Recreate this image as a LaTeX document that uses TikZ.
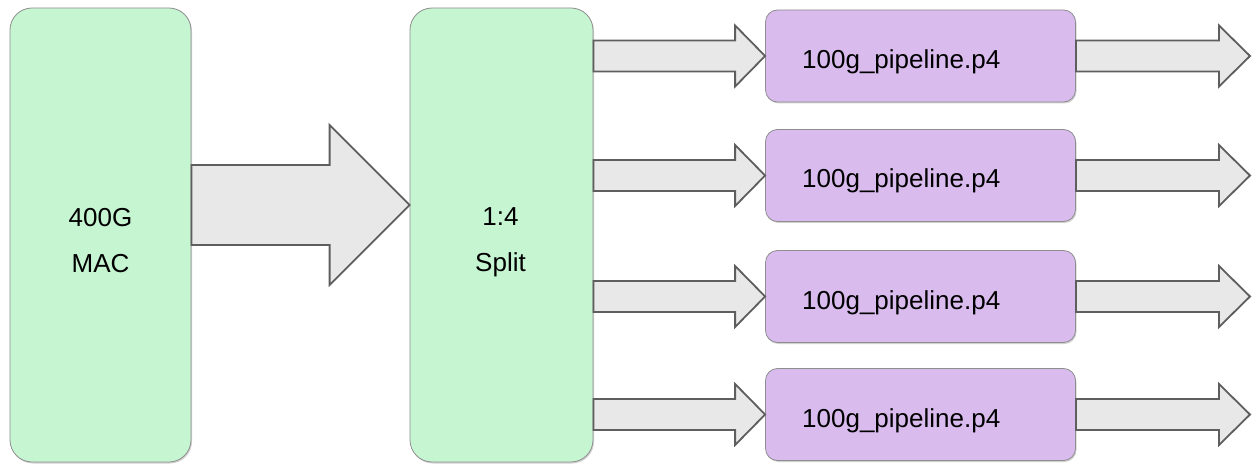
\documentclass[tikz,border=0pt]{standalone}
\usepackage{fontspec}
\setmainfont{Liberation Sans}
\usetikzlibrary{calc,shadows}
\definecolor{boxgreen}{HTML}{C6F5D2}
\definecolor{boxpurple}{HTML}{D9BBEE}
\definecolor{arrowfill}{HTML}{E8E8E8}
\definecolor{arrowline}{HTML}{5E5E5E}
\definecolor{boxline}{HTML}{8E8E8E}
\tikzset{
  softshadow/.style={general shadow={shadow xshift=1pt, shadow yshift=-1.5pt, fill=black, opacity=0.18}},
  greenbox/.style={draw=boxline, line width=0.8pt, fill=boxgreen, rounded corners=22pt, softshadow, inner sep=0pt},
  purplebox/.style={draw=boxline, line width=0.8pt, fill=boxpurple, rounded corners=12pt, softshadow, inner sep=0pt, minimum width=310pt, minimum height=92pt},
  blockarrow/.style={draw=arrowline, fill=arrowfill, line width=1.8pt, line join=miter},
  label/.style={font=\fontsize{26}{46}\selectfont, align=center, inner sep=0pt, text=black},
  pipelabel/.style={font=\fontsize{26}{30}\selectfont, inner sep=0pt, anchor=base west, text=black}
}
% #1 start, #2 tip, #3 shaft half, #4 head half, #5 head length
\newcommand{\fatarrow}[5]{%
  \path[blockarrow] let \p1=(#1), \p2=(#2) in
    (\x1,\y2+#3pt) -- (\x2-#5pt,\y2+#3pt) -- (\x2-#5pt,\y2+#4pt) -- (\x2,\y2)
    -- (\x2-#5pt,\y2-#4pt) -- (\x2-#5pt,\y2-#3pt) -- (\x1,\y2-#3pt) -- cycle;}
\begin{document}
\begin{tikzpicture}[x=1pt,y=-1pt]
\useasboundingbox (0,0) rectangle (1258,465);
% main boxes
\node[greenbox, minimum width=181pt, minimum height=454pt] (mac) at (100.5,235) {};
\node[label] (mactext) at (100.5,240.7) {400G\\MAC};
\node[greenbox, minimum width=183pt, minimum height=454pt] (split) at (501.5,235) {};
\node[label] (splittext) at (500.5,242) {1:4\\Split};
% pipeline boxes
\foreach \i/\y in {1/56,2/175.5,3/296.5,4/414.5}{
  \node[purplebox] (p\i) at (920.5,\y) {};
  \node[pipelabel] (pt\i) at (802,\y+12.5) {100g\_pipeline.p4};
  \coordinate (out\i) at (1250,\y);
}
% big arrow
\coordinate (bigy) at (0,205);
\fatarrow{mac.east |- bigy}{split.west |- bigy}{40}{80}{80}
% split arrows and outputs
\foreach \i in {1,2,3,4}{
  \fatarrow{split.east |- p\i.west}{p\i.west}{15.5}{30.5}{30}
  \fatarrow{p\i.east}{out\i}{15.5}{30.5}{31}
}
\end{tikzpicture}
\end{document}
